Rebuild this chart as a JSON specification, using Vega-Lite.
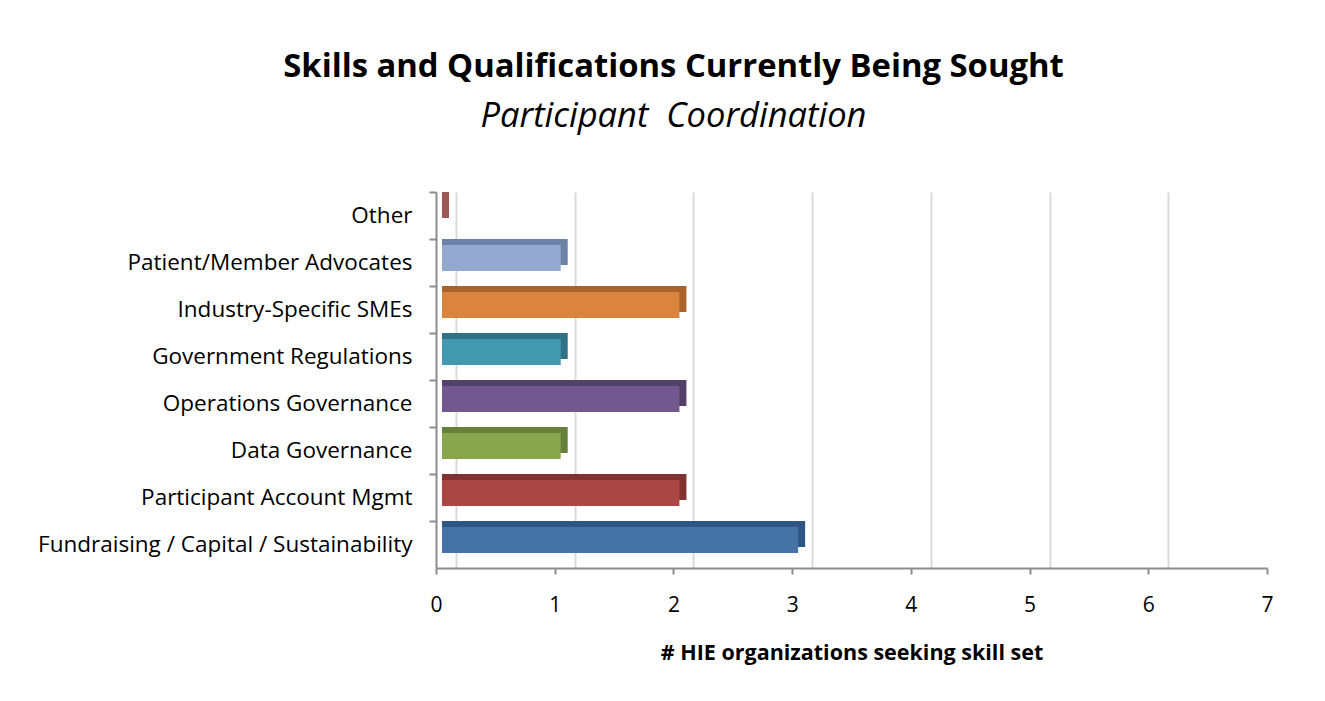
{
  "$schema": "https://vega.github.io/schema/vega-lite/v6.json",
  "width": 831,
  "height": 376,
  "autosize": "none",
  "padding": {"left": 436, "top": 192, "right": 58, "bottom": 133},
  "background": "white",
  "config": {"view": {"stroke": null}, "font": "Open Sans"},
  "title": {
    "text": "Skills and Qualifications Currently Being Sought",
    "subtitle": "Participant\u00a0 Coordination",
    "anchor": "middle",
    "dx": -178,
    "font": "Open Sans",
    "fontSize": 32.8,
    "fontWeight": "bold",
    "color": "black",
    "subtitleFont": "Open Sans",
    "subtitleFontSize": 34.5,
    "subtitleFontStyle": "italic",
    "subtitleFontWeight": "normal",
    "subtitleColor": "black",
    "subtitlePadding": 16,
    "offset": 58
  },
  "data": {
    "values": [
      {"skill": "Other", "value": 0},
      {"skill": "Patient/Member Advocates", "value": 1},
      {"skill": "Industry-Specific SMEs", "value": 2},
      {"skill": "Government Regulations", "value": 1},
      {"skill": "Operations Governance", "value": 2},
      {"skill": "Data Governance", "value": 1},
      {"skill": "Participant Account Mgmt", "value": 2},
      {"skill": "Fundraising / Capital / Sustainability", "value": 3}
    ]
  },
  "encoding": {
    "y": {
      "field": "skill",
      "type": "nominal",
      "sort": ["Other", "Patient/Member Advocates", "Industry-Specific SMEs", "Government Regulations", "Operations Governance", "Data Governance", "Participant Account Mgmt", "Fundraising / Capital / Sustainability"],
      "scale": {"paddingInner": 0, "paddingOuter": 0},
      "axis": {
        "title": null,
        "bandPosition": 0,
        "labelFont": "Open Sans",
        "labelFontSize": 22.5,
        "labelColor": "black",
        "labelPadding": 17,
        "labelLimit": 500,
        "domainColor": "#8c8c8c",
        "domainWidth": 2,
        "tickColor": "#8c8c8c",
        "tickWidth": 2,
        "tickSize": 7,
        "grid": false
      }
    }
  },
  "layer": [
    {
      "mark": {"type": "tick", "opacity": 0},
      "encoding": {
        "x": {
          "field": "value",
          "type": "quantitative",
          "scale": {"domain": [-0.1685, 6.8315], "nice": false, "zero": false},
          "axis": {
            "orient": "top",
            "values": [0, 1, 2, 3, 4, 5, 6, 7],
            "grid": true,
            "gridColor": "#d9d9d9",
            "gridWidth": 2,
            "labels": false,
            "ticks": false,
            "domain": false,
            "title": null
          }
        }
      }
    },
    {
      "mark": {"type": "bar", "height": 26, "xOffset": 13, "x2Offset": 6, "yOffset": -10.5},
      "encoding": {
        "x": {"field": "value", "type": "quantitative", "stack": null, "scale": {"domain": [0, 7], "nice": false}, "axis": null},
        "x2": {"datum": 0},
        "color": {
          "field": "skill",
          "type": "nominal",
          "legend": null,
          "scale": {
            "domain": ["Other", "Patient/Member Advocates", "Industry-Specific SMEs", "Government Regulations", "Operations Governance", "Data Governance", "Participant Account Mgmt", "Fundraising / Capital / Sustainability"],
            "range": ["#9b5857", "#6c81a6", "#a8622b", "#2f7185", "#54416b", "#66803a", "#7f3230", "#2f5584"]
          }
        }
      }
    },
    {
      "mark": {"type": "bar", "height": 26, "xOffset": 6, "x2Offset": 6, "yOffset": -4.5},
      "encoding": {
        "x": {
          "field": "value",
          "type": "quantitative",
          "stack": null,
          "scale": {"domain": [0, 7], "nice": false},
          "axis": {
            "orient": "bottom",
            "values": [0, 1, 2, 3, 4, 5, 6, 7],
            "format": "d",
            "grid": false,
            "labelFlush": false,
            "title": "# HIE organizations seeking skill set",
            "titleFont": "Open Sans",
            "titleFontSize": 21.5,
            "titleFontWeight": "bold",
            "titleColor": "black",
            "titlePadding": 27,
            "labelFont": "Open Sans",
            "labelFontSize": 21,
            "labelColor": "black",
            "labelPadding": 20,
            "domainColor": "#8c8c8c",
            "domainWidth": 2,
            "tickColor": "#8c8c8c",
            "tickWidth": 2,
            "tickSize": 6
          }
        },
        "x2": {"datum": 0},
        "color": {
          "field": "skill",
          "type": "nominal",
          "legend": null,
          "scale": {
            "domain": ["Other", "Patient/Member Advocates", "Industry-Specific SMEs", "Government Regulations", "Operations Governance", "Data Governance", "Participant Account Mgmt", "Fundraising / Capital / Sustainability"],
            "range": ["#b9605e", "#93a9cf", "#db843d", "#4198af", "#71588f", "#89a54e", "#aa4643", "#4572a7"]
          }
        }
      }
    }
  ],
  "resolve": {"scale": {"x": "independent", "color": "independent"}, "axis": {"x": "independent"}}
}
